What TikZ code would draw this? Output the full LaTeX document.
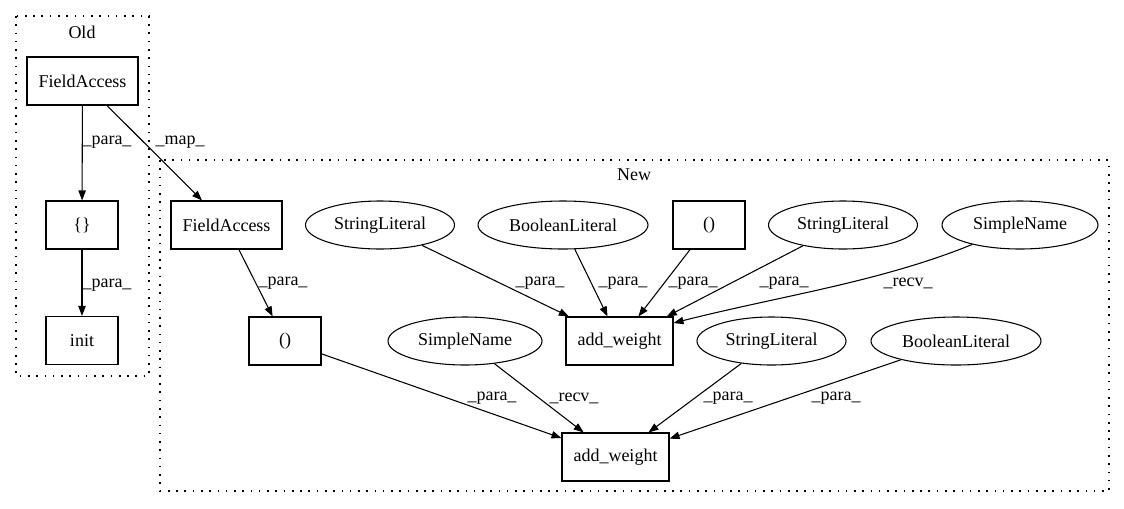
\documentclass[tikz,border=0pt]{standalone}
\usepackage{fontspec}
\setmainfont{Liberation Serif}
\usetikzlibrary{shapes.geometric,arrows.meta}
\begin{document}
\begin{tikzpicture}[x=0.75pt,y=-0.75pt,
  every node/.style={font=\fontsize{13.5}{16}\selectfont},
  box/.style={draw, rectangle, line width=0.8pt, minimum height=36pt, inner sep=0pt},
  ell/.style={draw, ellipse, line width=0.8pt, minimum height=36pt, inner sep=0pt},
  lbl/.style={inner sep=0pt},
  cluster/.style={line width=0.9pt, dash pattern=on 1.2pt off 5pt},
  edge/.style={line width=0.8pt, -{Triangle[length=7.5pt,width=5.5pt]}}
]
\useasboundingbox (0,0) rectangle (1124,508);
% clusters
\draw[cluster] (16,16) rectangle (149,376);
\node[lbl] (oldlbl) at (82,32) {Old};
\draw[cluster] (160,160) rectangle (1109,491);
\node[lbl] (newlbl) at (634,175) {New};
% old nodes
\node[box, minimum width=83.25pt] (ofa) at (82.5,81) {FieldAccess};
\node[box, minimum width=54pt] (obr) at (82,225) {\{\}};
\node[box, minimum width=54pt] (oinit) at (82,340.5) {init};
% new nodes
\node[box, minimum width=83.25pt] (nfa) at (226.5,225) {FieldAccess};
\node[ell, minimum width=111.75pt] (sl1) at (380,225) {StringLiteral};
\node[ell, minimum width=127.5pt] (bl1) at (563,225) {BooleanLiteral};
\node[box, minimum width=54pt] (par1) at (709,225) {()};
\node[ell, minimum width=111.75pt] (sl2) at (843,225) {StringLiteral};
\node[ell, minimum width=117pt] (sn1) at (1020,225) {SimpleName};
\node[box, minimum width=54pt] (par2) at (285,341) {()};
\node[ell, minimum width=115.5pt] (sn2) at (465,341) {SimpleName};
\node[box, minimum width=80.25pt] (aw1) at (619.5,341) {add\_weight};
\node[ell, minimum width=111.75pt] (sl3) at (771.5,341) {StringLiteral};
\node[ell, minimum width=127.5pt] (bl2) at (956,341) {BooleanLiteral};
\node[box, minimum width=80.25pt] (aw2) at (615.5,457) {add\_weight};
% edges
\draw[edge] (ofa) -- (obr);
\draw[edge] (obr) -- (oinit);
\draw[edge] (ofa) -- (nfa);
\draw[edge] (nfa) -- (par2);
\draw[edge] (sl1) -- (aw1);
\draw[edge] (bl1) -- (aw1);
\draw[edge] (par1) -- (aw1);
\draw[edge] (sl2) -- (aw1);
\draw[edge] (sn1) .. controls (880,282) and (780,296) .. (aw1.east |- 0,323);
\draw[edge] (par2) -- (aw2);
\draw[edge] (sn2) -- (aw2);
\draw[edge] (sl3) -- (aw2);
\draw[edge] (bl2) -- (aw2);
% edge labels
\node[lbl] (l1) at (107,142) {\_para\_};
\node[lbl] (l2) at (180,142) {\_map\_};
\node[lbl] (l3) at (107,285) {\_para\_};
\node[lbl] (l4) at (283,283) {\_para\_};
\node[lbl] (l5) at (540,283) {\_para\_};
\node[lbl] (l6) at (623,283) {\_para\_};
\node[lbl] (l7) at (693,283) {\_para\_};
\node[lbl] (l8) at (784,283) {\_para\_};
\node[lbl] (l9) at (908,283) {\_recv\_};
\node[lbl] (l10) at (492,398) {\_para\_};
\node[lbl] (l11) at (574,398) {\_recv\_};
\node[lbl] (l12) at (728,398) {\_para\_};
\node[lbl] (l13) at (836,398) {\_para\_};
\end{tikzpicture}
\end{document}
